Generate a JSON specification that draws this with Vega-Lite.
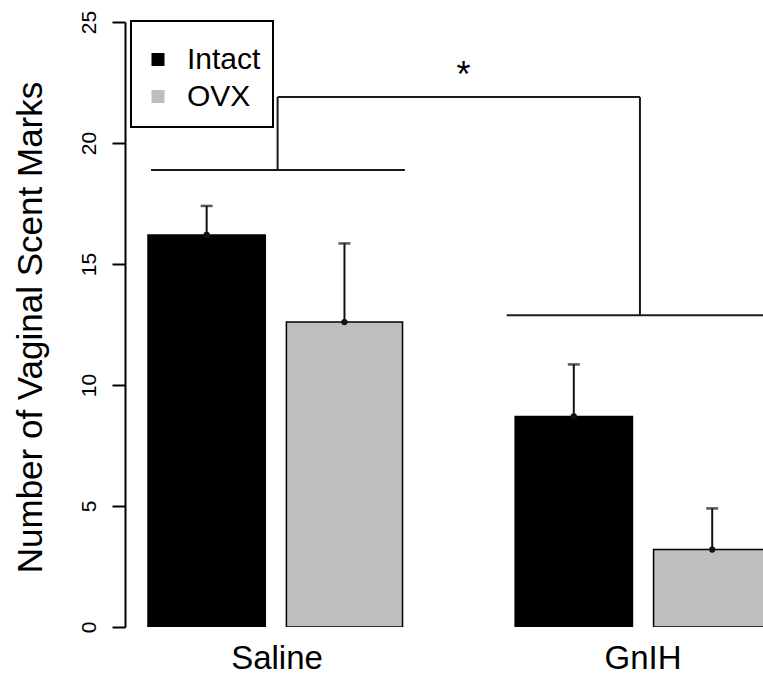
{
  "$schema": "https://vega.github.io/schema/vega-lite/v6.json",
  "width": 638,
  "height": 605,
  "autosize": {"type": "none"},
  "padding": {"left": 125, "top": 22, "right": 0, "bottom": 52},
  "background": "white",
  "config": {"view": {"stroke": null}, "font": "Liberation Sans", "legend": {"strokeWidth": 2}},
  "datasets": {
    "bars": [
      {"treatment": "Saline", "condition": "Intact", "x0": 1.0, "x1": 2.0, "xc": 1.5, "mean": 16.2, "upper": 17.4},
      {"treatment": "Saline", "condition": "OVX", "x0": 2.18, "x1": 3.17, "xc": 2.675, "mean": 12.6, "upper": 15.85},
      {"treatment": "GnIH", "condition": "Intact", "x0": 4.13, "x1": 5.13, "xc": 4.63, "mean": 8.7, "upper": 10.85},
      {"treatment": "GnIH", "condition": "OVX", "x0": 5.31, "x1": 6.31, "xc": 5.81, "mean": 3.2, "upper": 4.9}
    ],
    "bracket": [
      {"x": 1.026, "x2": 3.19, "y": 18.88, "y2": 18.88},
      {"x": 2.105, "x2": 2.105, "y": 18.88, "y2": 21.9},
      {"x": 2.105, "x2": 5.194, "y": 21.9, "y2": 21.9},
      {"x": 5.194, "x2": 5.194, "y": 21.9, "y2": 12.88},
      {"x": 4.058, "x2": 6.4, "y": 12.88, "y2": 12.88}
    ],
    "groups": [
      {"treatment": "Saline", "xc": 2.1, "y": -1.75},
      {"treatment": "GnIH", "xc": 5.22, "y": -1.75}
    ],
    "sig": [{"label": "*", "x": 3.69, "y": 22.3}]
  },
  "layer": [
    {
      "data": {"name": "bars"},
      "mark": {"type": "bar", "stroke": "black", "strokeWidth": 1.5, "clip": true},
      "encoding": {
        "x": {"field": "x0", "type": "quantitative", "scale": {"domain": [0.804, 6.243], "nice": false, "zero": false}, "axis": null},
        "x2": {"field": "x1"},
        "y": {"field": "mean", "type": "quantitative", "scale": {"domain": [0, 25], "nice": false},
          "axis": {
            "title": "Number of Vaginal Scent Marks",
            "values": [0, 5, 10, 15, 20, 25],
            "grid": false,
            "domainColor": "black", "domainWidth": 2,
            "tickColor": "black", "tickWidth": 2, "tickSize": 13,
            "labelAngle": -90, "labelAlign": "center", "labelBaseline": "alphabetic",
            "labelPadding": 17, "labelFontSize": 21, "labelColor": "black", "labelFont": "Liberation Sans",
            "titleFont": "Liberation Sans", "titleFontSize": 35, "titleFontWeight": "normal", "titleColor": "black",
            "titleAngle": -90, "titleAlign": "center", "titleBaseline": "alphabetic",
            "titleX": -84, "titleY": 305
          }
        },
        "y2": {"datum": 0},
        "fill": {
          "field": "condition", "type": "nominal",
          "scale": {"domain": ["Intact", "OVX"], "range": ["#000000", "#bebebe"]},
          "legend": {
            "orient": "none", "legendX": 6, "legendY": -1, "title": " ",
            "titleFontSize": 8, "titlePadding": 0,
            "symbolType": "square", "symbolSize": 169, "symbolStrokeWidth": 0,
            "labelFontSize": 30, "labelFont": "Liberation Sans", "labelColor": "black",
            "labelOffset": 14, "padding": 12, "rowPadding": 0, "clipHeight": 37,
            "strokeColor": "black", "fillColor": "white"
          }
        }
      }
    },
    {
      "data": {"name": "bars"},
      "mark": {"type": "rule", "color": "#111111", "strokeWidth": 2},
      "encoding": {
        "x": {"field": "xc", "type": "quantitative"},
        "y": {"field": "mean", "type": "quantitative"},
        "y2": {"field": "upper"}
      }
    },
    {
      "data": {"name": "bars"},
      "mark": {"type": "tick", "orient": "horizontal", "color": "#111111", "size": 12, "thickness": 2.5},
      "encoding": {
        "x": {"field": "xc", "type": "quantitative"},
        "y": {"field": "upper", "type": "quantitative"}
      }
    },
    {
      "data": {"name": "bars"},
      "mark": {"type": "point", "filled": true, "color": "#111111", "size": 40, "opacity": 1},
      "encoding": {
        "x": {"field": "xc", "type": "quantitative"},
        "y": {"field": "mean", "type": "quantitative"}
      }
    },
    {
      "data": {"name": "bracket"},
      "mark": {"type": "rule", "color": "#1a1a1a", "strokeWidth": 2, "clip": true},
      "encoding": {
        "x": {"field": "x", "type": "quantitative"},
        "x2": {"field": "x2"},
        "y": {"field": "y", "type": "quantitative"},
        "y2": {"field": "y2"}
      }
    },
    {
      "data": {"name": "sig"},
      "mark": {"type": "text", "fontSize": 36, "font": "Liberation Sans", "color": "black", "baseline": "alphabetic", "align": "center"},
      "encoding": {
        "x": {"field": "x", "type": "quantitative"},
        "y": {"field": "y", "type": "quantitative"},
        "text": {"field": "label"}
      }
    },
    {
      "data": {"name": "groups"},
      "mark": {"type": "text", "fontSize": 33, "font": "Liberation Sans", "color": "black", "baseline": "alphabetic", "align": "center"},
      "encoding": {
        "x": {"field": "xc", "type": "quantitative"},
        "y": {"field": "y", "type": "quantitative"},
        "text": {"field": "treatment"}
      }
    }
  ]
}
